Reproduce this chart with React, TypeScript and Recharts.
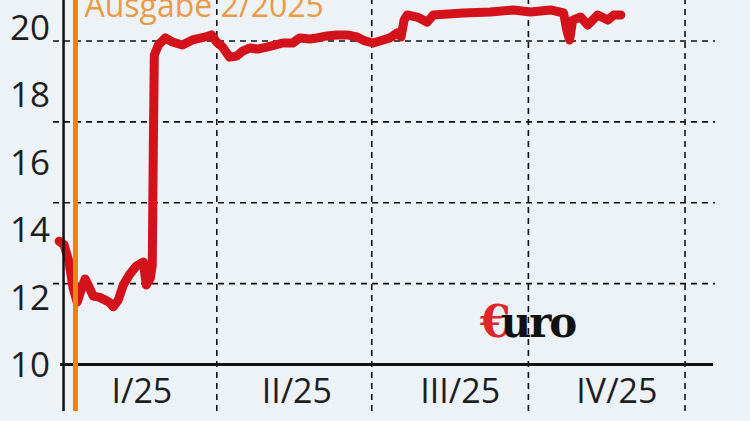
import React from "react";
import { LineChart, Line, XAxis, YAxis, ReferenceLine } from "recharts";

// Day of year 2025 (0 = 1 Jan) and share price in EUR
const days = [
  -2.6, 0.3, 3.2, 5.6, 8, 10.3, 12.7, 15, 17.4, 20.9, 24.5, 26.8, 29.2, 32.1, 35.1, 38.6, 42.7, 46.8, 48.6, 51,
  52.1, 52.7, 53.3, 55.7, 59.8, 63.9, 69.8, 75.7, 83.4, 86.9, 89.8, 93.4, 97.5, 101.6, 105.2, 109.3, 114, 119.3,
  124, 128.7, 134.6, 138.7, 144.6, 148.8, 154.7, 160.6, 166.5, 172.3, 177, 181.8, 187.6, 191.7, 195.9, 198.2,
  200, 201.8, 207.7, 213.6, 217.1, 234.8, 250.7, 264.2, 274.3, 286, 293.7, 295.5, 297.2, 299, 303.7, 307.8,
  313.7, 319.6, 323.2, 327.3,
];
const prices = [
  13.66, 13.55, 13.04, 12.27, 11.85, 12.21, 12.54, 12.3, 12.03, 12.0, 11.91, 11.85, 11.71, 11.91, 12.36, 12.66,
  12.92, 13.04, 12.36, 12.57, 12.95, 16.36, 19.18, 19.48, 19.69, 19.57, 19.48, 19.63, 19.72, 19.78, 19.57, 19.42,
  19.12, 19.15, 19.3, 19.39, 19.36, 19.42, 19.48, 19.54, 19.54, 19.69, 19.66, 19.69, 19.75, 19.78, 19.78, 19.72,
  19.6, 19.54, 19.63, 19.69, 19.84, 19.72, 20.22, 20.37, 20.31, 20.16, 20.37, 20.43, 20.46, 20.52, 20.46, 20.52,
  20.43, 19.93, 19.63, 20.22, 20.31, 20.07, 20.37, 20.22, 20.37, 20.37,
];

const yTicks = [10, 12, 14, 16, 18, 20];
const gridValues = [12.4, 14.8, 17.2, 19.6];
const quarterBounds = [90, 181, 273, 365];
const quarterLabelDays = [46, 137, 233, 325];
const quarterLabels = ["I/25", "II/25", "III/25", "IV/25"];
const issueDay = 7;
const issueLabel = "Ausgabe 2/2025";
const xDomain: [number, number] = [-6.2, 382.6];
const yDomain: [number, number] = [8.62, 20.816];
const baseLineExtent = [-2, 381.5];

const data = days.map((d, i) => ({ day: d, price: prices[i] }));

const FONT = "'Open Sans', sans-serif";

const IssueLabel = (props: any) => {
  const vb = props.viewBox || {};
  return (
    <text x={vb.x + 9} y={vb.y + 17} fill="#eb9a45" fontSize={32} fontFamily={FONT}>
      {issueLabel}
    </text>
  );
};

export default function App() {
  return (
    <div style={{ position: "fixed", left: 0, top: 0, width: 750, height: 421, background: "#ecf2f6", overflow: "hidden" }}>
      <LineChart width={750} height={421} data={data} margin={{ top: 0, right: 35, bottom: 10, left: 0 }}>
        <XAxis
          type="number"
          dataKey="day"
          domain={xDomain}
          allowDataOverflow
          ticks={quarterLabelDays}
          interval={0}
          tickFormatter={(v: number) => quarterLabels[quarterLabelDays.indexOf(v)] ?? ""}
          mirror
          axisLine={false}
          tickLine={false}
          tickSize={6}
          tickMargin={2}
          tick={{ fontSize: 34, fill: "#1e1e1e", fontFamily: FONT }}
        />
        <YAxis
          type="number"
          domain={yDomain}
          allowDataOverflow
          ticks={yTicks}
          interval={0}
          width={53}
          axisLine={false}
          tickLine={false}
          tickSize={1}
          tickMargin={2}
          tick={{ fontSize: 35, fill: "#1e1e1e", fontFamily: FONT }}
        />
        {gridValues.map((v) => (
          <ReferenceLine key={"h" + v} y={v} stroke="#111" strokeWidth={1.6} strokeDasharray="6 5" />
        ))}
        {quarterBounds.map((v) => (
          <ReferenceLine key={"v" + v} x={v} stroke="#111" strokeWidth={1.6} strokeDasharray="6 5" />
        ))}
        <Line
          type="linear"
          dataKey="price"
          stroke="#d3121b"
          strokeWidth={9}
          strokeLinejoin="round"
          strokeLinecap="round"
          dot={false}
          isAnimationActive={false}
        />
        <ReferenceLine
          segment={[
            { x: baseLineExtent[0], y: 10 },
            { x: baseLineExtent[1], y: 10 },
          ]}
          stroke="#111"
          strokeWidth={3}
        />
        <ReferenceLine x={0} stroke="#111" strokeWidth={2.5} />
        <ReferenceLine x={issueDay} stroke="#f0820f" strokeWidth={5} label={IssueLabel} />
      </LineChart>
      <svg width={750} height={421} style={{ position: "absolute", left: 0, top: 0, pointerEvents: "none" }}>
        <text x={480} y={337} fontFamily="'DejaVu Serif', serif" fontWeight={900}>
          <tspan fontSize={44} fill="#e0252b">€</tspan>
          <tspan dx={-10} fontSize={42} fill="#111" letterSpacing={-2}>uro</tspan>
        </text>
      </svg>
    </div>
  );
}
